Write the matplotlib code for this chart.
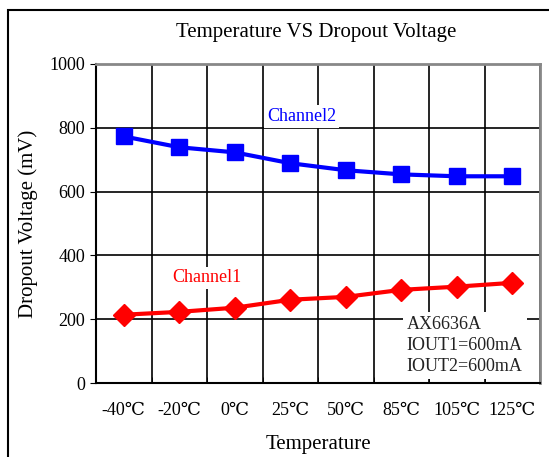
import matplotlib
matplotlib.use("Agg")
import matplotlib.pyplot as plt
from matplotlib.patches import Rectangle
import numpy as np

plt.rcParams['font.family'] = ['Liberation Serif', 'DejaVu Serif']

categories = ['-40℃', '-20℃', '0℃', '25℃', '50℃', '85℃', '105℃', '125℃']
channel2 = [773, 739, 723, 689, 667, 654, 648, 648]
channel1 = [214, 223, 236, 261, 270, 292, 302, 314]
yticks = [0, 200, 400, 600, 800, 1000]

fig = plt.figure(figsize=(5.49, 4.57), dpi=100)
fig.patches.append(Rectangle((8/549, -0.01), 1.05, 1 - 10/457 + 0.01, transform=fig.transFigure,
                             fill=False, edgecolor='black', linewidth=1.5))
ax = fig.add_axes([96/549, 74/457, 444/549, 319/457])

x = np.arange(len(categories))
ax.plot(x, channel2, color='#0000ff', linewidth=3, marker='s', markersize=12, zorder=5)
ax.plot(x, channel1, color='#ff0000', linewidth=3, marker='D', markersize=11, zorder=5)

ax.set_xlim(-0.5, len(categories) - 0.5)
ax.set_ylim(0, 1000)
ax.set_yticks(yticks)
ax.set_yticklabels([str(v) for v in yticks], fontsize=13)
ax.set_xticks(x)
ax.set_xticklabels(categories, fontsize=13)
ax.set_xticks(np.arange(len(categories) + 1) - 0.5, minor=True)
ax.tick_params(axis='x', which='major', length=0, pad=14)
ax.tick_params(axis='x', which='minor', length=4, direction='in')
ax.tick_params(axis='y', length=4, direction='out', pad=4)
ax.set_axisbelow(True)
ax.grid(True, which='minor', axis='x', color='black', linewidth=1.2)
ax.grid(True, which='major', axis='y', color='black', linewidth=1.2)
for s in ['left', 'bottom']:
    ax.spines[s].set_color('black')
    ax.spines[s].set_linewidth(1.5)
for s in ['right', 'top']:
    ax.spines[s].set_color('#888888')
    ax.spines[s].set_linewidth(2)

ax.set_xlabel('Temperature', fontsize=15, labelpad=11)
ax.set_ylabel('Dropout Voltage (mV)', fontsize=15, labelpad=8)
fig.text((173+459)/2/549, 1 - 32/457, 'Temperature VS Dropout Voltage', fontsize=15,
         ha='center', va='center')

ax.text(3.2, 835, 'Channel2', color='#0000ff', fontsize=13, ha='center', va='center',
        bbox=dict(facecolor='white', edgecolor='none', pad=2), zorder=6)
ax.text(1.5, 330, 'Channel1', color='#ff0000', fontsize=13, ha='center', va='center',
        bbox=dict(facecolor='white', edgecolor='none', pad=2), zorder=6)
ax.text(5.1, 118, 'AX6636A\nIOUT1=600mA\nIOUT2=600mA', color='#222222', fontsize=13,
        ha='left', va='center', linespacing=1.3,
        bbox=dict(facecolor='white', edgecolor='none', pad=3), zorder=6)

fig.savefig('out.png', dpi=100)
